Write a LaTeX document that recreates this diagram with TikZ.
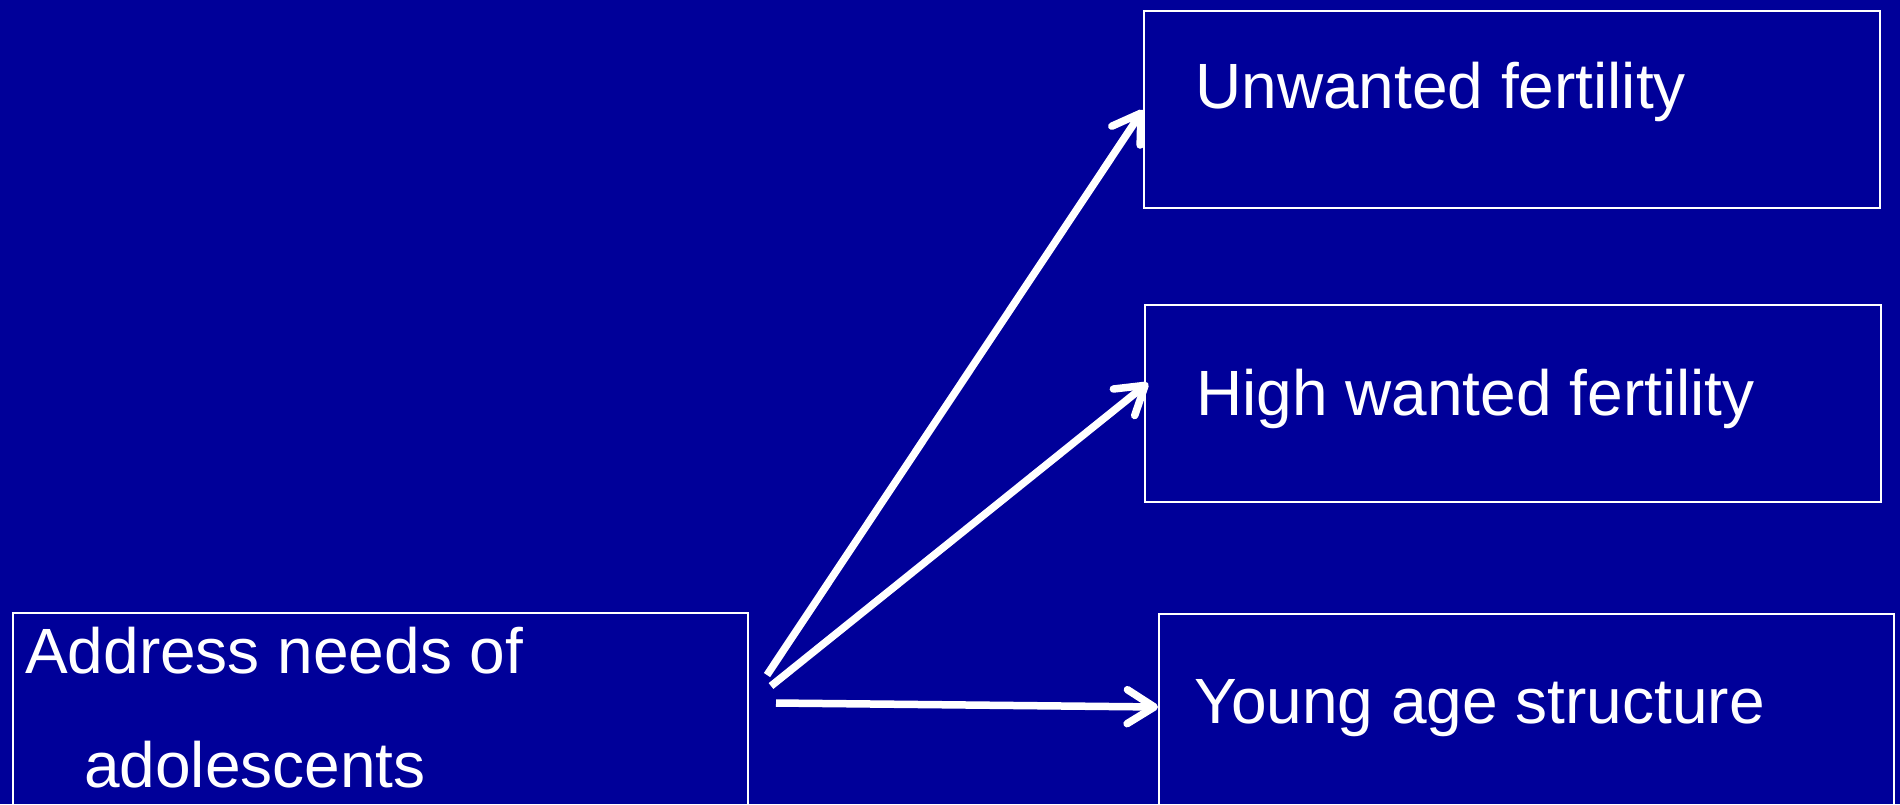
\documentclass[tikz,border=0pt]{standalone}
\usepackage{fontspec}
\setmainfont{Liberation Sans}
\usetikzlibrary{arrows.meta,calc}
\definecolor{bgblue}{RGB}{0,0,153}
\begin{document}
\begin{tikzpicture}[x=1pt,y=-1pt,
  box/.style={draw=white,line width=2pt,fill=none,rectangle,inner sep=0pt,anchor=north west},
  lbl/.style={text=white,font=\fontsize{64}{64}\selectfont,anchor=base west,inner sep=0pt},
  arr/.style={draw=white,line width=7.5pt,-{Straight Barb[length=27pt,width=34pt,round]}}]
\fill[bgblue] (0,0) rectangle (1900,804);
\useasboundingbox (0,0) rectangle (1900,804);
\node[box,minimum width=736pt,minimum height=197pt] (u) at (1143,10) {};
\node[box,minimum width=736pt,minimum height=197pt] (h) at (1144,304) {};
\node[box,minimum width=735pt,minimum height=230pt] (y) at (1158,613) {};
\node[box,minimum width=735pt,minimum height=230pt] (a) at (12,612) {};
\node[lbl] (ut) at (1195,108) {Unwanted fertility};
\node[lbl] (ht) at (1196,415) {High wanted fertility};
\node[lbl] (yt) at (1194,723) {Young age structure};
\node[lbl] (at1) at (25,673) {Address needs of};
\node[lbl] (at2) at (84,787) {adolescents};
\coordinate (s1) at (767,675);
\coordinate (s2) at (771,686);
\coordinate (s3) at (776,703);
\coordinate (e1) at (1143,110);
\coordinate (e2) at (1148,383);
\coordinate (e3) at (1158,707);
\draw[arr] (s1) -- (e1);
\draw[arr] (s2) -- (e2);
\draw[arr] (s3) -- (e3);
\end{tikzpicture}
\end{document}
